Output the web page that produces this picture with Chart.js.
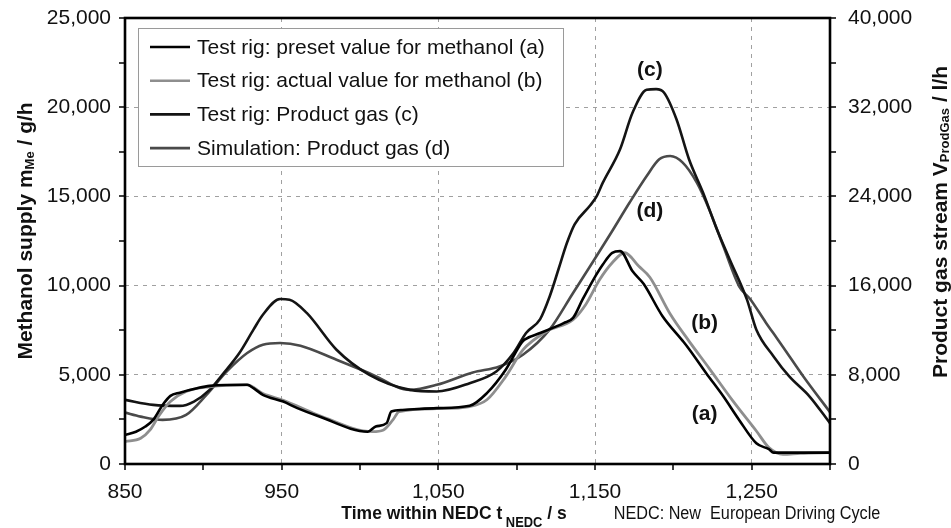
<!DOCTYPE html>
<html lang="en">
<head>
    <meta charset="UTF-8">
    <title>Methanol supply and product gas stream within NEDC</title>
    <script src="https://cdn.jsdelivr.net/npm/chart.js"></script>
    <style>
        html, body { margin: 0; padding: 0; background: #fff; }
    </style>
</head>
<body>
    <canvas id="myChart" width="951" height="528"></canvas>
    <script>

// Test rig: preset value for methanol (a), g/h
const tPreset = [850, 857, 863, 868, 874, 879, 885, 896, 904, 928, 932, 938, 951, 960, 974, 1005, 1010, 1017, 1020, 1027,
    1049, 1070, 1081, 1093, 1103, 1105, 1115, 1130, 1136, 1142, 1149, 1155, 1161, 1166, 1174, 1181, 1193, 1206, 1210, 1221,
    1232, 1242, 1253, 1261, 1264, 1300];
const presetMethanol = [1630, 1810, 2100, 2470, 3310, 3820, 4000, 4250, 4380, 4440, 4250, 3880, 3500, 3130, 2660, 1810, 2100, 2290, 2940, 3030,
    3130, 3260, 3970, 5280, 6780, 6970, 7340, 7900, 8190, 9210, 10340, 11180, 11840, 11930, 10800, 10100, 8300, 6900, 6450, 5090,
    3780, 2470, 1160, 830, 640, 640];

// Test rig: actual value for methanol (b), g/h
const tActual = [850, 860, 866, 872, 879, 889, 904, 928, 938, 951, 961, 974, 1008, 1015, 1021, 1025, 1049, 1070, 1081, 1093,
    1104, 1119, 1136, 1144, 1153, 1161, 1169, 1178, 1185, 1198, 1210, 1223, 1238, 1253, 1261, 1270, 1281, 1300];
const actualMethanol = [1250, 1440, 1910, 2750, 3500, 4060, 4330, 4440, 3950, 3570, 3200, 2720, 1815, 1910, 2470, 2940, 3100, 3220, 3600, 4900,
    6400, 7430, 8090, 8930, 10340, 11280, 11840, 11080, 10470, 8410, 6890, 5350, 3540, 1850, 920, 545, 600, 640];

// Test rig: Product gas (c), l/h
const tGasRig = [850, 868, 885, 894, 904, 913, 923, 932, 938, 949, 955, 966, 985, 1006, 1032, 1049, 1070, 1087, 1098, 1106,
    1115, 1121, 1127, 1132, 1137, 1147, 1151, 1155, 1166, 1174, 1183, 1189, 1194, 1202, 1210, 1219, 1227, 1236, 1247, 1253,
    1264, 1274, 1287, 1300];
const productGasRig = [5750, 5300, 5210, 5600, 6650, 8150, 9950, 12050, 13390, 14800, 14740, 13550, 10250, 8000, 6650, 6500, 7250, 8300, 9950, 11750,
    13000, 15000, 17600, 19800, 21500, 23200, 24000, 25230, 28230, 31520, 33560, 33620, 33320, 30920, 27330, 24330, 21330, 18340, 14740, 12040,
    9650, 7850, 6050, 3660];

// Simulation: Product gas (d), l/h
const tGasSim = [850, 860, 874, 889, 902, 915, 928, 938, 949, 962, 985, 1006, 1032, 1049, 1072, 1089, 1104, 1121, 1136, 1149,
    1161, 1172, 1183, 1191, 1198, 1206, 1215, 1223, 1232, 1242, 1249, 1259, 1266, 1270, 1283, 1300];
const productGasSim = [4610, 4250, 3960, 4400, 6200, 8300, 9950, 10700, 10850, 10610, 9350, 8150, 6650, 7100, 8210, 8750, 9800, 12050, 15340, 18200,
    20900, 23430, 25830, 27330, 27620, 27030, 25230, 22800, 19500, 15940, 14800, 12700, 11300, 10500, 7850, 4650];

// Ticks
const xTickValues = [850, 900, 950, 1000, 1050, 1100, 1150, 1200, 1250, 1300];
const xLabelValues = [850, 950, 1050, 1150, 1250];
const leftTickValues = [0, 2500, 5000, 7500, 10000, 12500, 15000, 17500, 20000, 22500, 25000];
const leftLabelValues = [0, 5000, 10000, 15000, 20000, 25000];
const rightTickValues = [0, 4000, 8000, 12000, 16000, 20000, 24000, 28000, 32000, 36000, 40000];
const rightLabelValues = [0, 8000, 16000, 24000, 32000, 40000];

const seriesLabels = [
    'Test rig: preset value for methanol (a)',
    'Test rig: actual value for methanol (b)',
    'Test rig: Product gas (c)',
    'Simulation: Product gas (d)'
];
const seriesColors = ['#000000', '#8e8e8e', '#141414', '#4a4a4a'];

const FONT = "'Liberation Sans', Arial, Helvetica, sans-serif";

function points(xs, ys) {
    return xs.map((x, i) => ({ x: x, y: ys[i] }));
}

function fmt(v) {
    return v.toLocaleString('en-US');
}

const data = {
    datasets: [
        { label: seriesLabels[0], data: points(tPreset, presetMethanol), yAxisID: 'y', borderColor: seriesColors[0], borderWidth: 2.6 },
        { label: seriesLabels[1], data: points(tActual, actualMethanol), yAxisID: 'y', borderColor: seriesColors[1], borderWidth: 2.8 },
        { label: seriesLabels[2], data: points(tGasRig, productGasRig), yAxisID: 'y2', borderColor: seriesColors[2], borderWidth: 2.6 },
        { label: seriesLabels[3], data: points(tGasSim, productGasSim), yAxisID: 'y2', borderColor: seriesColors[3], borderWidth: 2.6 }
    ].map(d => Object.assign(d, { fill: false, pointRadius: 0, cubicInterpolationMode: 'monotone' }))
};

// text with a subscript part, optionally rotated / condensed
function drawRich(ctx, parts, cx, cy, angle, sx) {
    sx = sx || 1;
    ctx.save();
    ctx.translate(cx, cy);
    ctx.rotate(angle);
    ctx.scale(sx, 1);
    let total = 0;
    parts.forEach(p => { ctx.font = p.font; total += ctx.measureText(p.text).width; });
    let x = -total / 2;
    ctx.textBaseline = 'alphabetic';
    ctx.textAlign = 'left';
    parts.forEach(p => {
        ctx.font = p.font;
        ctx.fillText(p.text, x, p.dy || 0);
        x += ctx.measureText(p.text).width;
    });
    ctx.restore();
}

const curveLabels = [
    { text: '(c)', x: 1185, y: 35300, axis: 'y2' },
    { text: '(d)', x: 1185, y: 22700, axis: 'y2' },
    { text: '(b)', x: 1220, y: 7900, axis: 'y' },
    { text: '(a)', x: 1220, y: 2800, axis: 'y' }
];

const overlay = {
    id: 'overlay',
    afterDraw(chart) {
        const ctx = chart.ctx;
        const a = chart.chartArea;
        const sc = chart.scales;
        ctx.save();

        // tick marks
        ctx.strokeStyle = '#000';
        ctx.lineWidth = 1.5;
        ctx.beginPath();
        xTickValues.forEach(v => {
            const p = Math.round(sc.x.getPixelForValue(v));
            ctx.moveTo(p, a.bottom); ctx.lineTo(p, a.bottom + 6);
        });
        leftTickValues.forEach(v => {
            const p = Math.round(sc.y.getPixelForValue(v));
            ctx.moveTo(a.left - 6, p); ctx.lineTo(a.left, p);
        });
        rightTickValues.forEach(v => {
            const p = Math.round(sc.y2.getPixelForValue(v));
            ctx.moveTo(a.right, p); ctx.lineTo(a.right + 6, p);
        });
        ctx.stroke();

        // frame
        ctx.lineWidth = 2.6;
        ctx.strokeRect(a.left, a.top, a.right - a.left, a.bottom - a.top);

        // legend
        const lx = 138, ly = 28, lw = 425, lh = 138;
        ctx.fillStyle = '#fff';
        ctx.fillRect(lx, ly, lw, lh);
        ctx.strokeStyle = '#9a9a9a';
        ctx.lineWidth = 1;
        ctx.strokeRect(lx + 0.5, ly + 0.5, lw, lh);
        ctx.font = '21px ' + FONT;
        ctx.textBaseline = 'middle';
        ctx.textAlign = 'left';
        seriesLabels.forEach((s, i) => {
            const y = 47 + i * 33.7;
            ctx.strokeStyle = seriesColors[i];
            ctx.lineWidth = 2.6;
            ctx.beginPath();
            ctx.moveTo(150, y); ctx.lineTo(190, y);
            ctx.stroke();
            ctx.fillStyle = '#111';
            ctx.fillText(s, 197, y + 1);
        });

        // curve labels
        ctx.font = 'bold 21px ' + FONT;
        ctx.textAlign = 'center';
        ctx.textBaseline = 'middle';
        ctx.fillStyle = '#111';
        curveLabels.forEach(l => {
            ctx.fillText(l.text, sc.x.getPixelForValue(l.x), sc[l.axis].getPixelForValue(l.y));
        });

        // axis titles
        ctx.fillStyle = '#111';
        drawRich(ctx, [
            { text: 'Methanol supply m', font: 'bold 21px ' + FONT },
            { text: 'Me', font: 'bold 13px ' + FONT, dy: 2 },
            { text: ' / g/h', font: 'bold 21px ' + FONT }
        ], 32, 231, -Math.PI / 2);
        drawRich(ctx, [
            { text: 'Product gas stream V', font: 'bold 21px ' + FONT },
            { text: 'ProdGas', font: 'bold 13px ' + FONT, dy: 2 },
            { text: ' / l/h', font: 'bold 21px ' + FONT }
        ], 947, 222, -Math.PI / 2);
        drawRich(ctx, [
            { text: 'Time within NEDC t', font: 'bold 19px ' + FONT },
            { text: ' NEDC', font: 'bold 14px ' + FONT, dy: 8 },
            { text: ' / s', font: 'bold 19px ' + FONT }
        ], 454, 519, 0, 0.92);
        drawRich(ctx, [
            { text: 'NEDC: New  European Driving Cycle', font: '18px ' + FONT }
        ], 747, 519, 0, 0.9);

        ctx.restore();
    }
};

const tickFont = { family: FONT, size: 21 };

// vertical axes: no extra room for the top label, the layout padding handles it
function fitVertical(width) {
    return s => {
        s.width = width;
        s.paddingTop = 0;
        s.paddingBottom = 0;
    };
}

const config = {
    type: 'line',
    data: data,
    options: {
        responsive: false,
        animation: false,
        devicePixelRatio: 1,
        layout: { padding: { top: 18, left: 0, right: 0, bottom: 0 } },
        plugins: { legend: { display: false }, tooltip: { enabled: false } },
        scales: {
            x: {
                type: 'linear',
                min: 850,
                max: 1300,
                afterBuildTicks: s => { s.ticks = xTickValues.map(v => ({ value: v })); },
                afterFit: s => { s.height = 64; s.paddingLeft = 0; s.paddingRight = 0; },
                ticks: {
                    autoSkip: false, maxRotation: 0, padding: 16, color: '#111', font: tickFont,
                    callback: v => xLabelValues.includes(v) ? fmt(v) : ''
                },
                grid: {
                    drawTicks: false,
                    lineWidth: 1,
                    color: c => (c.tick && xLabelValues.includes(c.tick.value) && c.tick.value !== 850) ? '#a0a0a0' : 'rgba(0,0,0,0)'
                },
                border: { display: false, dash: [4, 5] }
            },
            y: {
                position: 'left',
                min: 0,
                max: 25000,
                afterBuildTicks: s => { s.ticks = leftTickValues.map(v => ({ value: v })); },
                afterFit: fitVertical(125),
                ticks: {
                    autoSkip: false, padding: 14, color: '#111', font: tickFont,
                    callback: v => leftLabelValues.includes(v) ? fmt(v) : ''
                },
                grid: {
                    drawTicks: false,
                    lineWidth: 1,
                    color: c => (c.tick && leftLabelValues.includes(c.tick.value) && c.tick.value !== 0 && c.tick.value !== 25000) ? '#a0a0a0' : 'rgba(0,0,0,0)'
                },
                border: { display: false, dash: [4, 5] }
            },
            y2: {
                position: 'right',
                min: 0,
                max: 40000,
                afterBuildTicks: s => { s.ticks = rightTickValues.map(v => ({ value: v })); },
                afterFit: fitVertical(121),
                ticks: {
                    autoSkip: false, padding: 18, color: '#111', font: tickFont,
                    callback: v => rightLabelValues.includes(v) ? fmt(v) : ''
                },
                grid: { display: false, drawTicks: false },
                border: { display: false }
            }
        }
    },
    plugins: [overlay]
};

const ctx = document.getElementById('myChart').getContext('2d');
const myChart = new Chart(ctx, config);

    </script>
</body>
</html>
